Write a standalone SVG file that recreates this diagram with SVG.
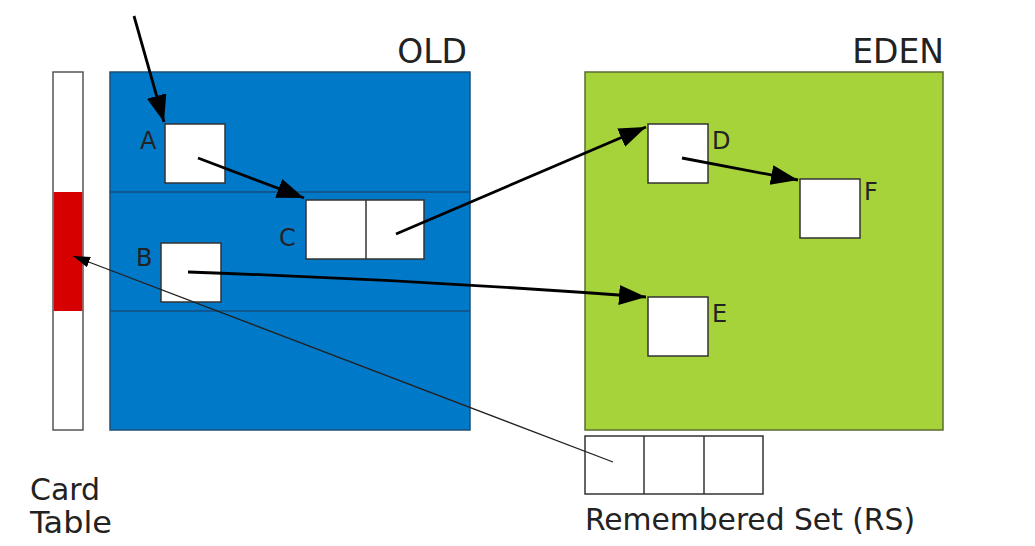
<svg xmlns="http://www.w3.org/2000/svg" width="1035" height="546" viewBox="0 0 1035 546">
<defs>
<style>
.box{fill:#fff;stroke:#333;stroke-width:1.5}
.lbl{font-family:"DejaVu Sans",sans-serif;font-size:24px;fill:#222}
.title{font-family:"DejaVu Sans",sans-serif;font-size:33px;fill:#222}
.cap{font-family:"DejaVu Sans Condensed","DejaVu Sans",sans-serif;font-size:31px;fill:#222}
.arr{stroke:#000;stroke-width:2.8;fill:none;marker-end:url(#ah)}
.thin{stroke:#222;stroke-width:1.3;fill:none;marker-end:url(#ahs)}
</style>
<marker id="ah" markerUnits="userSpaceOnUse" markerWidth="30" markerHeight="22" refX="27" refY="10" orient="auto"><path d="M0,0 L27,10 L0,20 z" fill="#000"/></marker>
<marker id="ahs" markerUnits="userSpaceOnUse" markerWidth="18" markerHeight="12" refX="17" refY="5.5" orient="auto"><path d="M0,0 L17,5.5 L0,11 z" fill="#000"/></marker>
</defs>
<rect width="1035" height="546" fill="#fff"/>
<g id="card-table">
<rect x="53" y="72" width="30" height="358" fill="#fff" stroke="#555" stroke-width="1.5"/>
<rect x="53.75" y="192" width="28.5" height="119" fill="#d70000"/>
<text class="cap" x="30" y="500" textLength="70" lengthAdjust="spacingAndGlyphs">Card</text>
<text class="cap" x="30" y="533" textLength="82" lengthAdjust="spacingAndGlyphs">Table</text>
</g>
<g id="old">
<rect x="110" y="72" width="360" height="358" fill="#0079c9" stroke="#1b4f78" stroke-width="1.5"/>
<line x1="110" y1="192" x2="470" y2="192" stroke="#154e7c" stroke-width="1.5"/>
<line x1="110" y1="311" x2="470" y2="311" stroke="#154e7c" stroke-width="1.5"/>
<text class="title" x="467" y="63" text-anchor="end">OLD</text>
</g>
<g id="eden">
<rect x="585" y="72" width="358" height="358" fill="#a6d23a" stroke="#5a6e30" stroke-width="1.5"/>
<text class="title" x="944" y="63" text-anchor="end">EDEN</text>
</g>
<g id="A"><rect class="box" x="165" y="124" width="60" height="59"/><text class="lbl" x="140" y="149">A</text></g>
<g id="B"><rect class="box" x="161" y="243" width="60" height="59"/><text class="lbl" x="136" y="266">B</text></g>
<g id="C"><rect class="box" x="306" y="200" width="118" height="59"/><line x1="366" y1="200" x2="366" y2="259" stroke="#333" stroke-width="1.5"/><text class="lbl" x="279" y="246">C</text></g>
<g id="D"><rect class="box" x="648" y="124" width="60" height="59"/><text class="lbl" x="712" y="149">D</text></g>
<g id="E"><rect class="box" x="648" y="297" width="60" height="59"/><text class="lbl" x="712" y="322">E</text></g>
<g id="F"><rect class="box" x="800" y="179" width="60" height="59"/><text class="lbl" x="864" y="200">F</text></g>
<g id="rs">
<rect class="box" x="585" y="436" width="178" height="58"/>
<line x1="644" y1="436" x2="644" y2="494" stroke="#333" stroke-width="1.5"/>
<line x1="704" y1="436" x2="704" y2="494" stroke="#333" stroke-width="1.5"/>
<text class="cap" x="585" y="530" textLength="330" lengthAdjust="spacingAndGlyphs">Remembered Set (RS)</text>
</g>
<g id="connectors">
<line class="arr" x1="134" y1="16" x2="164" y2="122"/>
<line class="arr" x1="198" y1="158" x2="304" y2="198"/>
<line class="arr" x1="396" y1="234" x2="646" y2="127"/>
<path class="arr" d="M188,272 Q420,280 646,297"/>
<line class="arr" x1="682" y1="158" x2="798" y2="180"/>
<line class="thin" x1="613" y1="462" x2="73" y2="256"/>
</g>
</svg>
